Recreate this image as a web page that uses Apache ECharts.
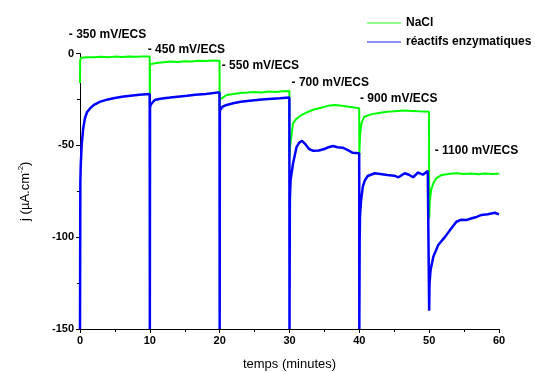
<!DOCTYPE html>
<html>
<head>
<meta charset="utf-8">
<script src="https://cdn.jsdelivr.net/npm/echarts@6/dist/echarts.min.js"></script>
<style>html,body{margin:0;padding:0;background:#fff}#c{width:535px;height:372px}</style>
</head>
<body>
<div id="c"></div>
<script>
var xTicks = [0, 10, 20, 30, 40, 50, 60];
var yTicks = [0, -50, -100, -150];

var naclName = 'NaCl';
var naclT = [0,0.02,0.1,0.5,1,2,3,4,5,6,7,8,9,9.98,
  10,10.03,10.5,11,12,13,14,15,16,17,18,19,19.98,
  20,20.05,20.3,21,22,23,24,25,26,27,28,29,29.98,
  30,30.1,30.2,30.5,31,31.7,32.5,33.5,34.5,35.5,36.5,37.5,38.5,39.5,39.98,
  40,40.1,40.3,40.7,41.8,43,44,45,46.5,47.5,48.5,49.98,
  50,50.1,50.3,50.6,51,51.8,53,54,55,56,57,58,59,60];
var naclJ = [-16,-4,-2.5,-2.2,-2.0,-2.1,-1.8,-2.0,-1.7,-1.9,-1.6,-1.8,-1.6,-1.7,
  -28,-6,-5.5,-5.2,-4.8,-4.4,-4.6,-4.2,-4.3,-3.9,-4.1,-3.8,-3.9,
  -31,-25,-24,-22.6,-22,-21.5,-21.3,-21.0,-21.2,-20.7,-20.9,-20.5,-20.4,
  -57,-50,-47,-38,-35.5,-33.5,-32,-30.5,-29.5,-28.5,-28,-28.5,-29,-29.5,-29.8,
  -55,-45,-38,-34.4,-33,-32.2,-31.7,-31.5,-31.1,-31.3,-31.5,-31.7,
  -90,-80,-74,-70.7,-68,-66.1,-65.5,-65.2,-65.6,-65.3,-65.7,-65.4,-65.6,-65.5];

var enzName = 'réactifs enzymatiques';
var enzT = [0,0.05,0.1,0.24,0.45,0.7,1.0,1.43,2,2.9,4,4.8,6,7.2,8.5,9.98,
  10,10.03,10.2,10.7,11.5,12.9,14,15.3,16.5,18,19.6,19.98,
  20,20.03,20.4,21,21.95,23,24.3,26,28.6,29.98,
  30,30.05,30.15,30.5,31,31.4,31.8,32.3,32.8,33.4,34.2,35,35.6,36.2,36.9,37.6,38.3,39,39.98,
  40,40.05,40.1,40.25,40.5,40.8,41.2,42.2,43,44,45,45.6,46.5,47.1,47.7,48.4,49.1,49.8,49.98,
  50,50.05,50.2,50.6,51.3,52.3,53.1,53.9,54.6,55.3,56.1,56.8,57.5,58.4,59.4,60];
var enzJ = [-150,-70,-61.6,-49.8,-41,-35.3,-32,-29.9,-28,-26.2,-25,-24.4,-23.6,-23,-22.5,-22,
  -150,-29,-27.5,-25.3,-24.6,-24,-23.5,-23,-22.5,-22,-21.3,-21.3,
  -150,-31,-29,-28,-27.1,-26.3,-25.7,-25,-24.4,-24,
  -150,-80,-69,-60,-51,-48.5,-47.6,-49.5,-52,-53,-52.8,-52,-51,-50.4,-51,-51.3,-52.5,-54,-54.3,
  -150,-100,-88,-80,-72.5,-69,-66.7,-65.2,-65.6,-66.1,-66.5,-67.4,-65.2,-66,-67.4,-64.8,-66,-64,-64,
  -140,-125,-117.9,-110.6,-104.3,-99.7,-95.5,-91.6,-90.5,-90.7,-89.7,-89,-87.9,-87.5,-86.7,-87.6];

var annText = ['- 350 mV/ECS','- 450 mV/ECS','- 550 mV/ECS','- 700 mV/ECS','- 900 mV/ECS','- 1100 mV/ECS'];
var annX = [-1.6, 9.7, 20.3, 30.3, 40.1, 50.8];
var annY = [10.2, 2.2, -6.8, -16.1, -24.8, -53];

function pairs(t, v){ return t.map(function(x,i){ return [x, v[i]]; }); }

var chart = echarts.init(document.getElementById('c'));
var font = '"Liberation Sans", Arial, sans-serif';
chart.setOption({
  animation: false,
  textStyle: {fontFamily: font},
  grid: {left: 80, right: 36, top: 53.5, bottom: 43, outerBoundsMode: 'none', containLabel: false},
  legend: {
    orient: 'vertical', left: 362, top: 12,
    icon: 'rect', itemWidth: 34, itemHeight: 1.5, itemGap: 7, itemStyle: {opacity: 0.6},
    textStyle: {fontFamily: font, fontSize: 12, fontWeight: 'bold', color: '#000'},
    data: [naclName, enzName]
  },
  xAxis: {
    type: 'value', min: xTicks[0], max: xTicks[xTicks.length-1], interval: 10,
    name: 'temps (minutes)', nameLocation: 'middle', nameGap: 29,
    nameTextStyle: {fontFamily: font, fontSize: 13, color: '#000'},
    axisLine: {onZero: false, lineStyle: {color: '#000', width: 1}},
    axisTick: {inside: false, length: 4, lineStyle: {color: '#000'}},
    minorTick: {show: true, splitNumber: 2, length: 3, lineStyle: {color: '#000'}},
    splitLine: {show: false},
    axisLabel: {fontFamily: font, fontSize: 11, fontWeight: 'bold', color: '#000', margin: 6}
  },
  yAxis: {
    type: 'value', min: yTicks[yTicks.length-1], max: yTicks[0], interval: 50,
    name: 'j (µA.cm{sup|-2})', nameLocation: 'middle', nameGap: 46, nameRotate: 90,
    nameTextStyle: {fontFamily: font, fontSize: 13, color: '#000',
      rich: {sup: {fontSize: 8, verticalAlign: 'top', padding: [0,0,9,0], fontFamily: font, color: '#000'}}},
    axisLine: {onZero: false, lineStyle: {color: '#000', width: 1}},
    axisTick: {inside: false, length: 4, lineStyle: {color: '#000'}},
    minorTick: {show: true, splitNumber: 2, length: 3, lineStyle: {color: '#000'}},
    splitLine: {show: false},
    axisLabel: {fontFamily: font, fontSize: 11, fontWeight: 'bold', color: '#000', margin: 6}
  },
  series: [
    {name: naclName, type: 'line', data: pairs(naclT, naclJ), showSymbol: false, symbol: 'none',
     color: '#00ff00', lineStyle: {color: '#00ff00', width: 2}, z: 2},
    {name: enzName, type: 'line', data: pairs(enzT, enzJ), showSymbol: false, symbol: 'none',
     color: '#0000ff', lineStyle: {color: '#0000ff', width: 2.5}, z: 3}
  ]
});

var g = annText.map(function(txt, i){
  var p = chart.convertToPixel({gridIndex: 0}, [annX[i], annY[i]]);
  return {type: 'text', x: p[0], y: p[1],
    style: {text: txt, fill: '#000', font: 'bold 12px ' + font, textAlign: 'left', textVerticalAlign: 'middle'}};
});
chart.setOption({graphic: g});
</script>
</body>
</html>
